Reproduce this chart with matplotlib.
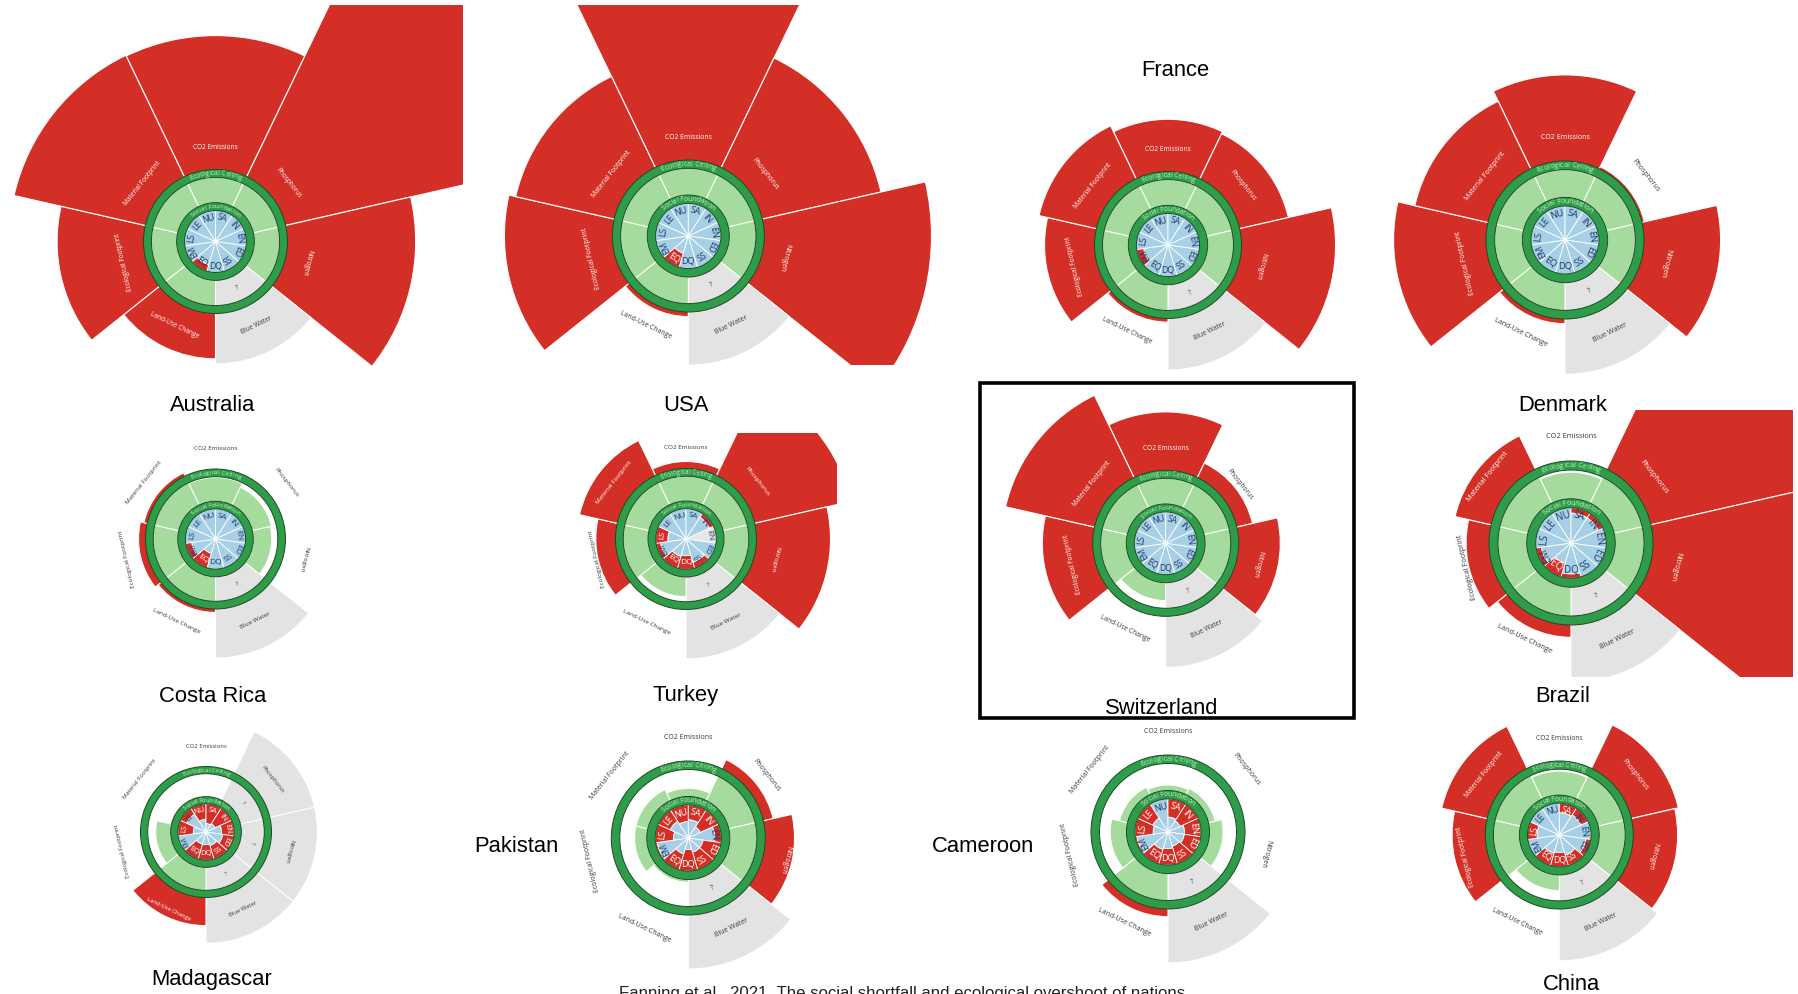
import numpy as np
import matplotlib
matplotlib.use('Agg')
import matplotlib.pyplot as plt
from matplotlib.patches import Wedge, Circle, Rectangle
from matplotlib.font_manager import FontProperties
from matplotlib.textpath import TextToPath

nan = np.nan
W, H, DPI = 1798, 994, 100

# ---------------- data ----------------
eco_labels = ['CO2 Emissions', 'Phosphorus', 'Nitrogen', 'Blue Water',
              'Land-Use Change', 'Ecological Footprint', 'Material Footprint']
social_labels = ['NU', 'SA', 'IN', 'EN', 'ED', 'SS', 'DQ', 'EQ', 'EM', 'LS', 'LE']
countries = ['Australia', 'USA', 'France', 'Denmark', 'Costa Rica', 'Turkey',
             'Switzerland', 'Brazil', 'Madagascar', 'Pakistan', 'Cameroon', 'China']

# ecological: <=1 share of safe space used, >1 overshoot (outer radius, ceiling = 1), nan = no data
australia_eco = [2.86, 5.0, 2.78, nan, 1.63, 2.2, 2.87]
usa_eco = [3.6, 2.6, 3.2, nan, 1.06, 2.42, 2.33]
france_eco = [1.71, 1.68, 2.28, nan, 1.05, 1.68, 1.8]
denmark_eco = [2.09, 1.03, 1.97, nan, 1.06, 2.17, 1.95]
costa_rica_eco = [0.97, 0.8, 0.75, nan, 1.05, 1.1, 1.05]
turkey_eco = [1.1, 2.4, 2.05, nan, 0.8, 1.28, 1.55]
switzerland_eco = [1.8, 1.22, 1.57, nan, 0.7, 1.69, 2.25]
brazil_eco = [0.92, 3.5, 3.5, nan, 1.15, 1.28, 1.45]
madagascar_eco = [0.05, nan, nan, nan, 1.43, 0.65, 0.05]
pakistan_eco = [0.3, 1.13, 1.38, nan, 0.1, 0.45, 0.45]
cameroon_eco = [0.2, 0.25, 0.5, nan, 1.1, 0.6, 0.3]
china_eco = [0.92, 1.65, 1.6, nan, 0.6, 1.45, 1.63]

# social: share of foundation achieved (1 = no shortfall), nan = no data
australia_soc = [1, 1, 1, 1, 1, 1, 1, 0.78, 1, 1, 1]
usa_soc = [1, 1, 1, 1, 1, 1, 1, 0.55, 1, 1, 1]
france_soc = [1, 1, 1, 1, 1, 1, 1, 1, 0.78, 1, 1]
denmark_soc = [1, 1, 1, 1, 1, 1, 1, 1, 1, 1, 1]
costa_rica_soc = [1, 1, 1, 1, 1, 1, 1, 0.5, 0.8, 1, 1]
turkey_soc = [1, 1, 0.85, nan, 1, 0.8, 0.55, 0.6, 0.85, 0.6, 1]
switzerland_soc = [1, 1, 1, 1, 1, 1, 1, 1, 1, 1, 1]
brazil_soc = [1, 0.85, 0.85, 1, 1, 1, 0.88, 0.6, 0.85, 1, 1]
madagascar_soc = [0.45, 0.3, 0.35, 0.55, 0.6, 0.5, 0.45, 0.45, 1.0, 0.45, 0.75]
pakistan_soc = [0.5, 0.55, 0.4, 0.8, 0.45, 0.45, 0.35, 0.5, 0.95, 0.45, 0.6]
cameroon_soc = [1.0, 0.45, 0.4, 0.5, 0.5, 0.45, 0.5, 0.55, 0.95, 0.45, 0.5]
china_soc = [1, 0.7, 0.75, 1, 0.85, 0.65, 0.55, 0.6, 1, 0.7, 1]

eco_data = [australia_eco, usa_eco, france_eco, denmark_eco, costa_rica_eco, turkey_eco,
            switzerland_eco, brazil_eco, madagascar_eco, pakistan_eco, cameroon_eco, china_eco]
soc_data = [australia_soc, usa_soc, france_soc, denmark_soc, costa_rica_soc, turkey_soc,
            switzerland_soc, brazil_soc, madagascar_soc, pakistan_soc, cameroon_soc, china_soc]

caption = 'Fanning et al., 2021. The social shortfall and ecological overshoot of nations'

# ---------------- layout (pixels) ----------------
# center x, center y, ceiling radius, clip box (x0, y0, x1, y1), label position
layout = {
    'Australia':   (215.5, 241.5, 72, (0, 5, 463, 385), (213, 405)),
    'USA':         (688.3, 236, 76, (470, 5, 933, 365), (686, 405)),
    'France':      (1168, 245, 73.5, (1000, 85, 1350, 390), (1175, 70)),
    'Denmark':     (1565, 240, 79, (1370, 40, 1775, 390), (1563, 405)),
    'Costa Rica':  (215.5, 539, 70, (100, 420, 340, 680), (213, 696)),
    'Turkey':      (686, 539, 70.5, (560, 433, 837, 680), (686, 696)),
    'Switzerland': (1165.7, 543.3, 73, (985, 387, 1350, 714), (1162, 709)),
    'Brazil':      (1571, 543, 82, (1420, 410, 1793, 677), (1563, 696)),
    'Madagascar':  (206, 832, 65.5, (90, 720, 330, 975), (212, 979)),
    'Pakistan':    (688.3, 838, 77, (560, 715, 830, 990), (516, 847)),
    'Cameroon':    (1168, 832, 77, (1040, 715, 1300, 990), (983, 847)),
    'China':       (1559.3, 835, 74, (1420, 710, 1720, 975), (1571, 985)),
}

RED = '#d42f26'
LGREEN = '#a5dc9d'
RING = '#2f9c4a'
RING_EDGE = '#1c4a28'
BLUE = '#a7d0e7'
GREY = '#e3e3e3'
DARK = '#3a3a3a'
NAVY = '#1f3d6b'

R_SOC, F_OUT, C_IN, C_OUT, GREY_R = 0.43, 0.54, 0.89, 1.0, 1.7
ttp = TextToPath()


def text_rot(th):
    rot = -th
    if 120 < (th % 360) < 240:
        rot += 180
    return rot


def char_width(ch, fp):
    w2, _, _ = ttp.get_text_width_height_descent('aa', fp, ismath=False)
    w3, _, _ = ttp.get_text_width_height_descent('a' + ch + 'a', fp, ismath=False)
    return w3 - w2


def curved_text(ax, text, radius, R_px, fs, color):
    fp = FontProperties(family='Open Sans', size=fs)
    scale = DPI / 72.0 / R_px
    ws = [char_width(c, fp) * scale for c in text]
    total = sum(ws) / radius
    a = -total / 2
    for ch, w in zip(text, ws):
        da = w / radius
        th = a + da / 2
        ax.text(radius * np.sin(th), radius * np.cos(th), ch, rotation=-np.degrees(th),
                rotation_mode='anchor', ha='center', va='center', fontproperties=fp,
                color=color, zorder=10)
        a += da


def ring(ax, r_in, r_out):
    ax.add_patch(Wedge((0, 0), r_out, 0, 360, width=r_out - r_in, fc=RING, ec='none', zorder=6))
    for r in (r_in, r_out):
        ax.add_patch(Circle((0, 0), r, fill=False, ec=RING_EDGE, lw=0.7, zorder=7))


def draw_doughnut(ax, eco, soc, R):
    s = R / 73.5
    step = 360.0 / len(eco)
    for k, v in enumerate(eco):
        th = k * step
        p1, p2 = 90 - (th + step / 2), 90 - (th - step / 2)
        if np.isnan(v):
            ax.add_patch(Wedge((0, 0), GREY_R, p1, p2, width=GREY_R - F_OUT, fc=GREY, ec='white', lw=0.7, zorder=2))
            rr = 0.72
            ax.text(rr * np.sin(np.radians(th)), rr * np.cos(np.radians(th)), '?', rotation=text_rot(th),
                    rotation_mode='anchor', ha='center', va='center', fontsize=4.8 * s, color=DARK,
                    family='Open Sans', zorder=9)
            col = DARK
        elif v > 1:
            ax.add_patch(Wedge((0, 0), v, p1, p2, width=v - C_IN + 0.02, fc=RED, ec='white', lw=0.8, zorder=2))
            ax.add_patch(Wedge((0, 0), C_IN, p1, p2, width=C_IN - F_OUT, fc=LGREEN, ec='white', lw=0.7, zorder=3))
            col = 'white' if v >= 1.3 else DARK
        else:
            ro = F_OUT + v * (C_IN - F_OUT)
            ax.add_patch(Wedge((0, 0), ro, p1, p2, width=ro - F_OUT, fc=LGREEN, ec='white', lw=0.7, zorder=3))
            col = DARK
        rl = 1.3
        ax.text(rl * np.sin(np.radians(th)), rl * np.cos(np.radians(th)), eco_labels[k],
                rotation=text_rot(th), rotation_mode='anchor', ha='center', va='center',
                fontsize=4.8 * s, color=col, family='Open Sans', zorder=9, clip_on=True)
    ring(ax, C_IN, C_OUT)

    sstep = 360.0 / len(soc)
    for j, f in enumerate(soc):
        th = j * sstep - sstep / 2
        p1, p2 = 90 - (th + sstep / 2), 90 - (th - sstep / 2)
        if np.isnan(f):
            ax.add_patch(Wedge((0, 0), R_SOC, p1, p2, fc='#e4e8ea', ec='white', lw=0.6, zorder=4))
            col = NAVY
        else:
            ax.add_patch(Wedge((0, 0), f * R_SOC, p1, p2, fc=BLUE, ec='white', lw=0.6, zorder=4))
            if f < 1:
                ax.add_patch(Wedge((0, 0), R_SOC, p1, p2, width=R_SOC * (1 - f), fc=RED, ec='white', lw=0.6, zorder=4))
            col = 'white' if f < 0.72 else NAVY
        rl = 0.335
        ax.text(rl * np.sin(np.radians(th)), rl * np.cos(np.radians(th)), social_labels[j],
                rotation=text_rot(th), rotation_mode='anchor', ha='center', va='center',
                fontsize=6.3 * s, color=col, family='Open Sans', zorder=9)
    ring(ax, R_SOC, F_OUT)
    curved_text(ax, 'Ecological Ceiling', (C_IN + C_OUT) / 2, R, 4.9 * s, '#bdf2b6')
    curved_text(ax, 'Social Foundation', (R_SOC + F_OUT) / 2, R, 4.7 * s, '#cdf5c8')


fig = plt.figure(figsize=(W / DPI, H / DPI), dpi=DPI)
fig.patch.set_facecolor('white')

for name, eco, soc in zip(countries, eco_data, soc_data):
    cx, cy, R, (x0, y0, x1, y1), (lx, ly) = layout[name]
    ax = fig.add_axes([x0 / W, 1 - y1 / H, (x1 - x0) / W, (y1 - y0) / H])
    ax.set_xlim((x0 - cx) / R, (x1 - cx) / R)
    ax.set_ylim((cy - y1) / R, (cy - y0) / R)
    ax.set_aspect('auto')
    ax.axis('off')
    ax.patch.set_alpha(0)
    draw_doughnut(ax, eco, soc, R)
    fig.text(lx / W, 1 - ly / H, name, ha='center', va='center', fontsize=15.8,
             family='Liberation Sans', color='black')

# frame around Switzerland
fig.add_artist(Rectangle((980.4 / W, 1 - 717.8 / H), (1354.3 - 980.4) / W, (717.8 - 383) / H,
                         transform=fig.transFigure, fill=False, ec='black', lw=2.6))

fig.text(902 / W, 1 - 986 / H, caption, ha='center', va='top', fontsize=12.1,
         family='Liberation Sans', color='#222222')

fig.savefig('out.png', dpi=DPI)
